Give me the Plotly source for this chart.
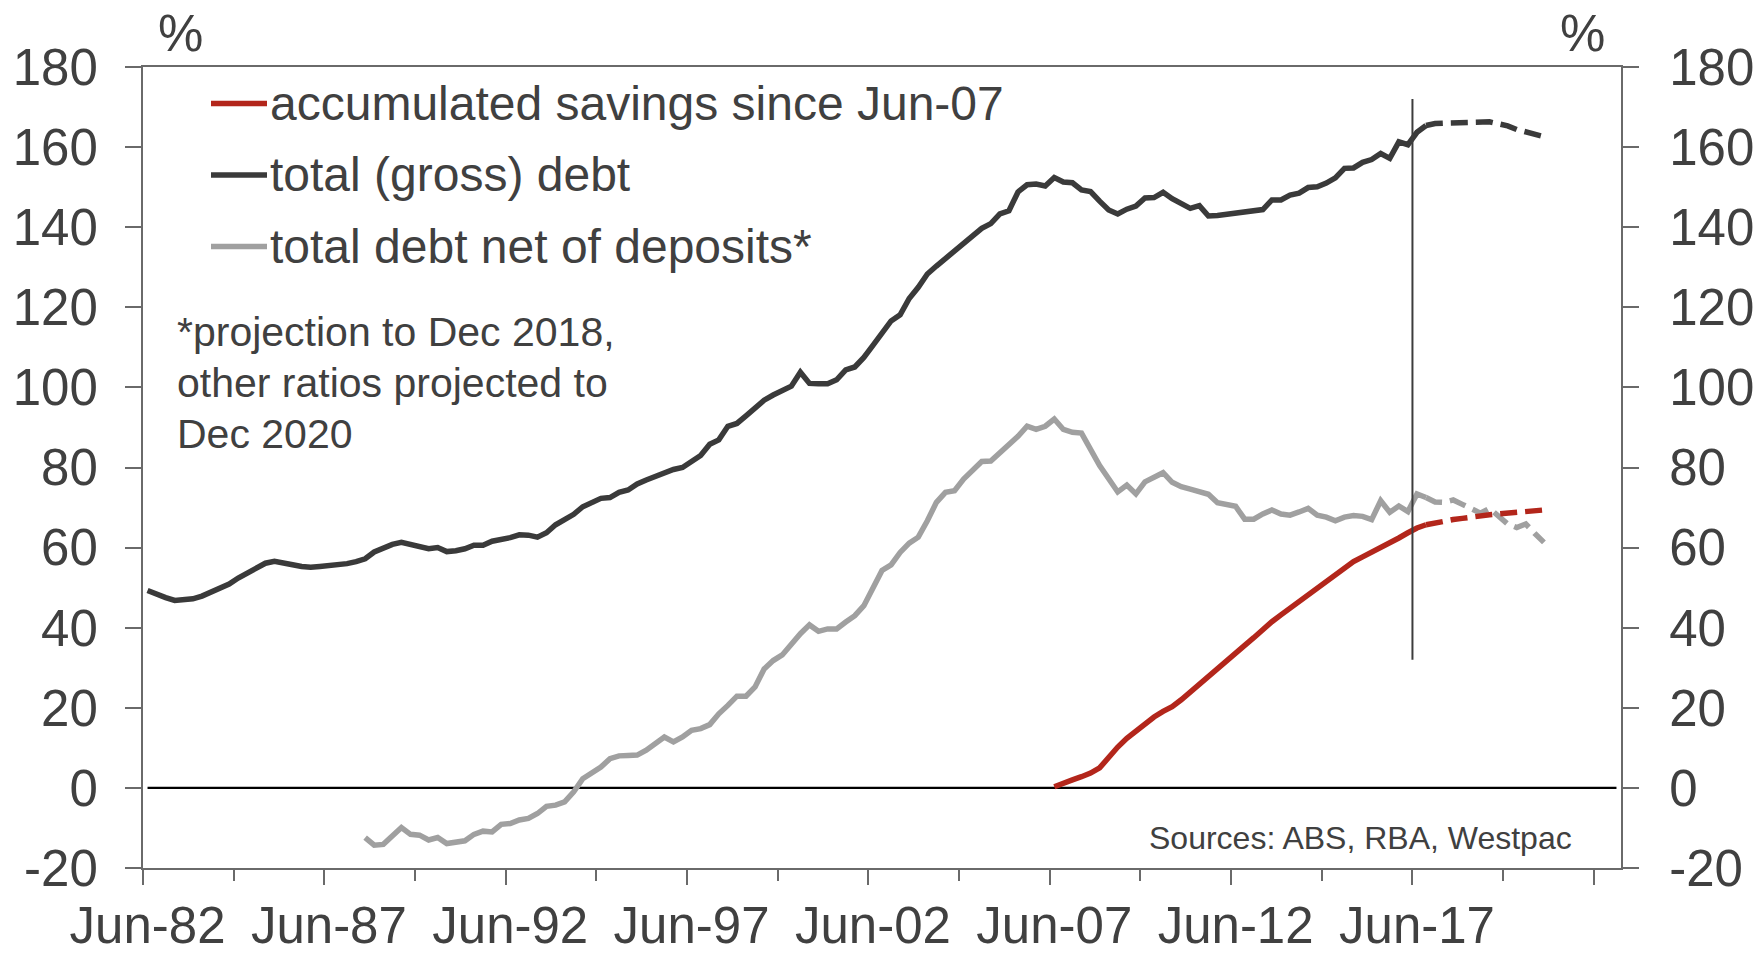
import pandas as pd
import plotly.graph_objects as go

# ---- categories: quarterly, Jun-82 .. Dec-22 ----
quarters = [p.end_time.strftime("%b-%y") for p in pd.period_range("1982Q2", "2022Q4", freq="Q")]

# ---- series (% of household disposable income), quarterly ----
gross_debt_start = "Jun-82"
gross_debt = [
    49.3, 48.3, 47.5,
    46.8, 47.0, 47.2, 47.9,
    49.0, 50.0, 50.9, 52.4,
    53.6, 55.0, 56.1, 56.6,
    56.3, 55.7, 55.3, 55.1,
    55.3, 55.5, 55.7, 56.0,
    56.5, 57.2, 58.9, 60.0,
    60.8, 61.3, 60.8, 60.1,
    59.7, 60.0, 59.0, 59.2,
    59.7, 60.6, 60.6, 61.6,
    62.0, 62.5, 63.2, 63.1,
    62.6, 63.7, 65.7, 67.0,
    68.3, 70.2, 71.2, 72.3,
    72.5, 73.8, 74.4, 75.9,
    76.9, 77.8, 78.9, 79.5,
    80.0, 81.3, 83.0, 85.8,
    86.9, 90.3, 91.0, 92.9,
    95.0, 96.8, 98.1, 99.2,
    100.3, 103.8, 101.0, 100.9,
    100.9, 101.9, 104.4, 105.1,
    107.5, 110.5, 113.6, 116.6,
    118.1, 122.2, 125.0, 128.3,
    130.3, 132.2, 133.8, 135.6,
    137.5, 139.7, 140.9, 143.3,
    144.1, 148.8, 150.6, 150.8,
    150.3, 152.4, 151.3, 151.1,
    149.3, 148.9, 146.5, 144.3,
    143.3, 144.5, 145.3, 147.3,
    147.4, 148.7, 147.1, 146.0,
    144.7, 145.4, 142.8, 142.9,
    143.2, 143.5, 143.9, 144.2,
    144.4, 146.8, 146.8, 148.0,
    148.5, 149.9, 150.1, 151.0,
    152.3, 154.7, 154.8, 156.2,
    156.9, 158.4, 157.2, 161.3,
    160.6, 163.7, 165.4, 165.9,
    166.0, 166.1, 166.2, 166.3,
    166.4, 166.3, 165.8, 165.3,
    164.4, 163.7, 163.0, 162.6,
]

net_debt_start = "Jun-88"
net_debt = [
    -12.4, -14.3, -14.1,
    -11.8, -9.9, -11.6, -11.8,
    -13.0, -12.4, -13.9, -13.6,
    -13.2, -11.6, -10.8, -11.0,
    -9.1, -8.9, -8.0, -7.6,
    -6.4, -4.6, -4.3, -3.5,
    -1.0, 2.3, 3.6, 5.2,
    7.3, 8.0, 8.1, 8.2,
    9.4, 11.1, 12.7, 11.5,
    12.7, 14.4, 14.8, 15.8,
    18.5, 20.6, 22.9, 22.9,
    25.2, 29.7, 31.8, 33.2,
    36.1, 38.5, 40.7, 39.1,
    39.7, 39.7, 41.4, 43.0,
    45.5, 50.1, 54.3, 55.7,
    58.8, 61.1, 62.6, 66.7,
    71.3, 73.8, 74.2, 77.1,
    79.2, 81.5, 81.6, 83.7,
    85.5, 87.8, 90.3, 89.5,
    90.3, 92.1, 89.5, 88.8,
    88.6, 84.5, 80.5, 77.2,
    73.9, 75.6, 73.4, 76.4,
    77.5, 78.7, 76.3, 75.2,
    74.6, 73.9, 73.3, 71.2,
    70.8, 70.3, 67.1, 67.1,
    68.4, 69.4, 68.4, 68.1,
    68.9, 69.8, 68.1, 67.6,
    66.7, 67.6, 68.0, 67.8,
    67.0, 71.7, 68.8, 70.4,
    69.0, 73.4, 72.5, 71.4,
    71.3, 71.9, 70.8, 69.6,
    68.6, 69.8, 67.8, 65.9,
    65.0, 65.9, 63.5, 61.3,
]

savings_start = "Jun-07"
savings = [
    0.3, 1.0, 2.0,
    2.8, 3.7, 5.0, 7.8,
    10.2, 12.4, 14.2, 16.1,
    17.7, 19.1, 20.3, 22.0,
    24.0, 26.0, 28.0, 30.0,
    32.0, 33.9, 35.6, 37.5,
    39.6, 41.5, 43.2, 44.9,
    46.5, 48.1, 49.8, 51.7,
    53.5, 55.0, 56.5, 57.7,
    58.8, 59.9, 61.1, 62.4,
    63.7, 64.9, 65.7, 66.2,
    66.6, 67.0, 67.3, 67.7,
    67.9, 68.2, 68.4, 68.6,
    68.8, 69.0, 69.2, 69.4,
]

projection_from = "Sep-17"      # last actual quarter; dashed beyond
projection_marker = "Jun-17"    # vertical divider sits on this tick
marker_span = [32, 172]

y_ticks = list(range(-20, 181, 20))
y_ticktext = [str(v) for v in y_ticks]   # plain hyphen for negatives
tick_every = 10                 # quarters between tick marks
label_every = 20                # quarters between labels (and long ticks)
label_last = "Jun-17"

series_names = [
    "accumulated savings since Jun-07",
    "total (gross) debt",
    "total debt net of deposits*",
]
note_lines = ["*projection to Dec 2018,", "other ratios projected to", "Dec 2020"]
source_text = "Sources: ABS, RBA, Westpac"

RED, DARK, GREY = "#B3261B", "#3A3A3A", "#A0A0A0"
TEXT = "#404040"
AXIS = "#6A6A6A"
FONT = "Liberation Sans, Arial, sans-serif"
LW = 5.5

W, H = 1761, 954
L, R, T, B = 143, 1621, 67, 868


def pxx(x):
    return (x - L) / (R - L)


def pxy(y):
    return (B - y) / (B - T)


def pos(label):
    return quarters.index(label)


def split(start, values):
    s = pos(start)
    cut = pos(projection_from)
    xs = list(range(s, s + len(values)))
    act = [(x, v) for x, v in zip(xs, values) if x <= cut]
    prj = [(x, v) for x, v in zip(xs, values) if x >= cut]
    return act, prj


fig = go.Figure()

# zero reference line across every category
fig.add_trace(go.Scatter(
    x=list(range(len(quarters))), y=[0] * len(quarters), mode="lines",
    line=dict(color="#000000", width=2.2), showlegend=False, hoverinfo="skip"))

for start, vals, color in [(net_debt_start, net_debt, GREY),
                           (gross_debt_start, gross_debt, DARK),
                           (savings_start, savings, RED)]:
    act, prj = split(start, vals)
    fig.add_trace(go.Scatter(
        x=[a[0] for a in act], y=[a[1] for a in act], mode="lines",
        line=dict(color=color, width=LW), showlegend=False, hoverinfo="skip"))
    fig.add_trace(go.Scatter(
        x=[p[0] for p in prj], y=[p[1] for p in prj], mode="lines",
        line=dict(color=color, width=LW, dash="17px,8px"),
        showlegend=False, hoverinfo="skip"))

# carriers for the overlay axes (right-hand values, category labels)
fig.add_trace(go.Scatter(x=[0], y=[None], yaxis="y2", mode="lines",
                         showlegend=False, hoverinfo="skip"))
fig.add_trace(go.Scatter(x=[0], y=[None], xaxis="x2", mode="lines",
                         showlegend=False, hoverinfo="skip"))

# projection divider
mx = pos(projection_marker) - 0.5
fig.add_shape(type="line", xref="x", yref="y", x0=mx, x1=mx,
              y0=marker_span[0], y1=marker_span[1],
              line=dict(color="#3C3C3C", width=2))

n = len(quarters)
label_idx = list(range(0, pos(label_last) + 1, label_every))
long_ticks = [i - 0.5 for i in range(0, n, label_every)]
short_ticks = [i - 0.5 for i in range(0, n, tick_every) if i % label_every]

yaxis_common = dict(
    range=[-20, 180], tickmode="array", tickvals=y_ticks, ticktext=y_ticktext,
    ticks="outside", ticklen=16, tickwidth=2, tickcolor=AXIS,
    automargin=False,
    tickfont=dict(size=51, family=FONT, color=TEXT),
    showline=True, linecolor=AXIS, linewidth=2,
    showgrid=False, zeroline=False,
)

fig.update_layout(
    width=W, height=H,
    margin=dict(l=L, r=W - R, t=T, b=H - B, pad=0, autoexpand=False),
    paper_bgcolor="white", plot_bgcolor="white",
    font=dict(family=FONT, color=TEXT),
    showlegend=False,
    # category boundaries: long ticks under each label, short ones between
    xaxis=dict(
        type="linear", range=[-0.5, n - 0.5], automargin=False,
        tickmode="array", tickvals=long_ticks, showticklabels=False,
        ticks="outside", ticklen=15, tickwidth=2, tickcolor=AXIS,
        minor=dict(tickmode="array", tickvals=short_ticks, ticks="outside",
                   ticklen=11, tickwidth=2, tickcolor=AXIS, showgrid=False),
        showline=True, linecolor=AXIS, linewidth=2, mirror=True,
        showgrid=False, zeroline=False,
    ),
    # category labels, centred on their quarter
    xaxis2=dict(
        type="linear", range=[-0.5, n - 0.5], automargin=False,
        overlaying="x", side="bottom", anchor="y",
        tickmode="array", tickvals=label_idx,
        ticktext=[quarters[i] for i in label_idx],
        ticks="", ticklabelstandoff=23,
        tickfont=dict(size=51, family=FONT, color=TEXT),
        showline=False, showgrid=False, zeroline=False,
    ),
    yaxis=dict(yaxis_common, ticklabelstandoff=17),
    yaxis2=dict(yaxis_common, overlaying="y", side="right", ticklabelstandoff=20),
)

# legend drawn in place
legend_rows = [103.5, 175, 246.5]
for name, color, yy in zip(series_names, [RED, DARK, GREY], legend_rows):
    fig.add_shape(type="line", xref="paper", yref="paper",
                  x0=pxx(211), x1=pxx(267), y0=pxy(yy), y1=pxy(yy),
                  line=dict(color=color, width=LW))
    fig.add_annotation(xref="paper", yref="paper", x=pxx(268), y=pxy(yy - 0.5),
                       xanchor="left", yanchor="middle", showarrow=False,
                       text=name, font=dict(size=48, family=FONT, color=TEXT))

# footnote, one line per annotation for tight leading
for k, line in enumerate(note_lines):
    fig.add_annotation(xref="paper", yref="paper", x=pxx(175), y=pxy(332 + 50.8 * k),
                       xanchor="left", yanchor="middle", align="left", showarrow=False,
                       text=line, font=dict(size=41, family=FONT, color=TEXT))

fig.add_annotation(xref="paper", yref="paper", x=pxx(1574), y=pxy(858),
                   xanchor="right", yanchor="bottom", showarrow=False,
                   text=source_text, font=dict(size=32, family=FONT, color=TEXT))

for cx in (180, 1582):
    fig.add_annotation(xref="paper", yref="paper", x=pxx(cx), y=pxy(63.5),
                       xanchor="center", yanchor="bottom", showarrow=False,
                       text="%", font=dict(size=51, family=FONT, color=TEXT))

fig.write_html("out.html")
